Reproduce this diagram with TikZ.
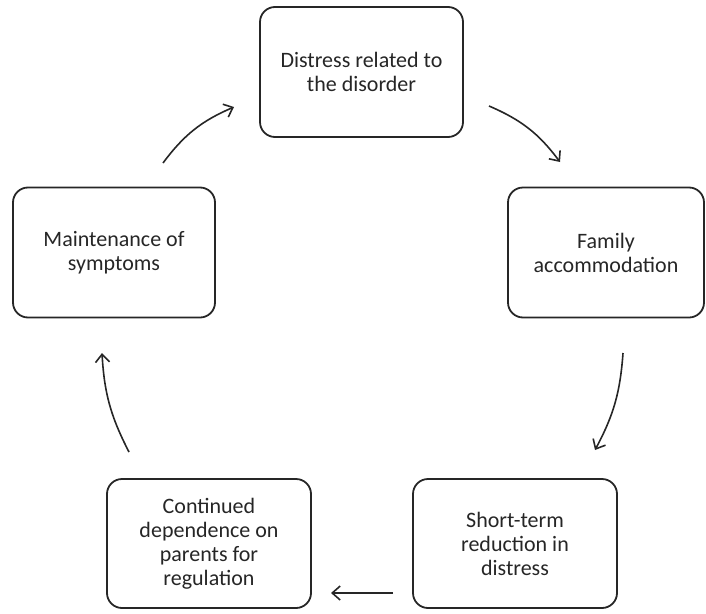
\documentclass[tikz,border=0pt]{standalone}
\usepackage{fontspec}
\setmainfont{Carlito}
\usepackage{tikz}
\usetikzlibrary{arrows.meta}
\tikzset{
  cyclebox/.style={draw=black!85,line width=1.8pt,rounded corners=15pt,align=center,
    minimum width=203pt,minimum height=130pt,font=\fontsize{22}{24}\selectfont,text=black!85},
  cyclearrow/.style={-{Straight Barb[length=8pt,width=14pt,line width=1.6pt]},line width=1.6pt,draw=black!85}
}
\begin{document}
\begin{tikzpicture}[x=1pt,y=-1pt]
  \useasboundingbox (0,0) rectangle (706,613);
  \node[cyclebox] (distress) at (361.5,72) {Distress related to\\the disorder};
  \node[cyclebox,minimum width=196pt] (family) at (606,252.5) {Family\\accommodation};
  \node[cyclebox,minimum height=129pt,minimum width=204pt] (reduction) at (515,543.5) {Short-term\\reduction in\\distress};
  \node[cyclebox,minimum height=129pt,minimum width=204pt] (dependence) at (209,543.5) {Continued\\dependence on\\parents for\\regulation};
  \node[cyclebox,minimum width=202pt] (maintenance) at (114,252.5) {Maintenance of\\symptoms};
  % free ends of the arrows
  \coordinate (m-out) at (163,163);  \coordinate (d-in) at (234,107);
  \coordinate (d-out) at (489,106);  \coordinate (f-in) at (560,162);
  \coordinate (f-out) at (623,353);  \coordinate (r-in) at (595,450);
  \coordinate (r-out) at (393,593);  \coordinate (c-in) at (331,593);
  \coordinate (c-out) at (129,452);  \coordinate (m-in) at (102,353);
  \foreach \a/\b/\bend in {m-out/d-in/15,d-out/f-in/15,f-out/r-in/12,r-out/c-in/0,c-out/m-in/12}
    \draw[cyclearrow] (\a) to[bend left=\bend] (\b);
\end{tikzpicture}
\end{document}
